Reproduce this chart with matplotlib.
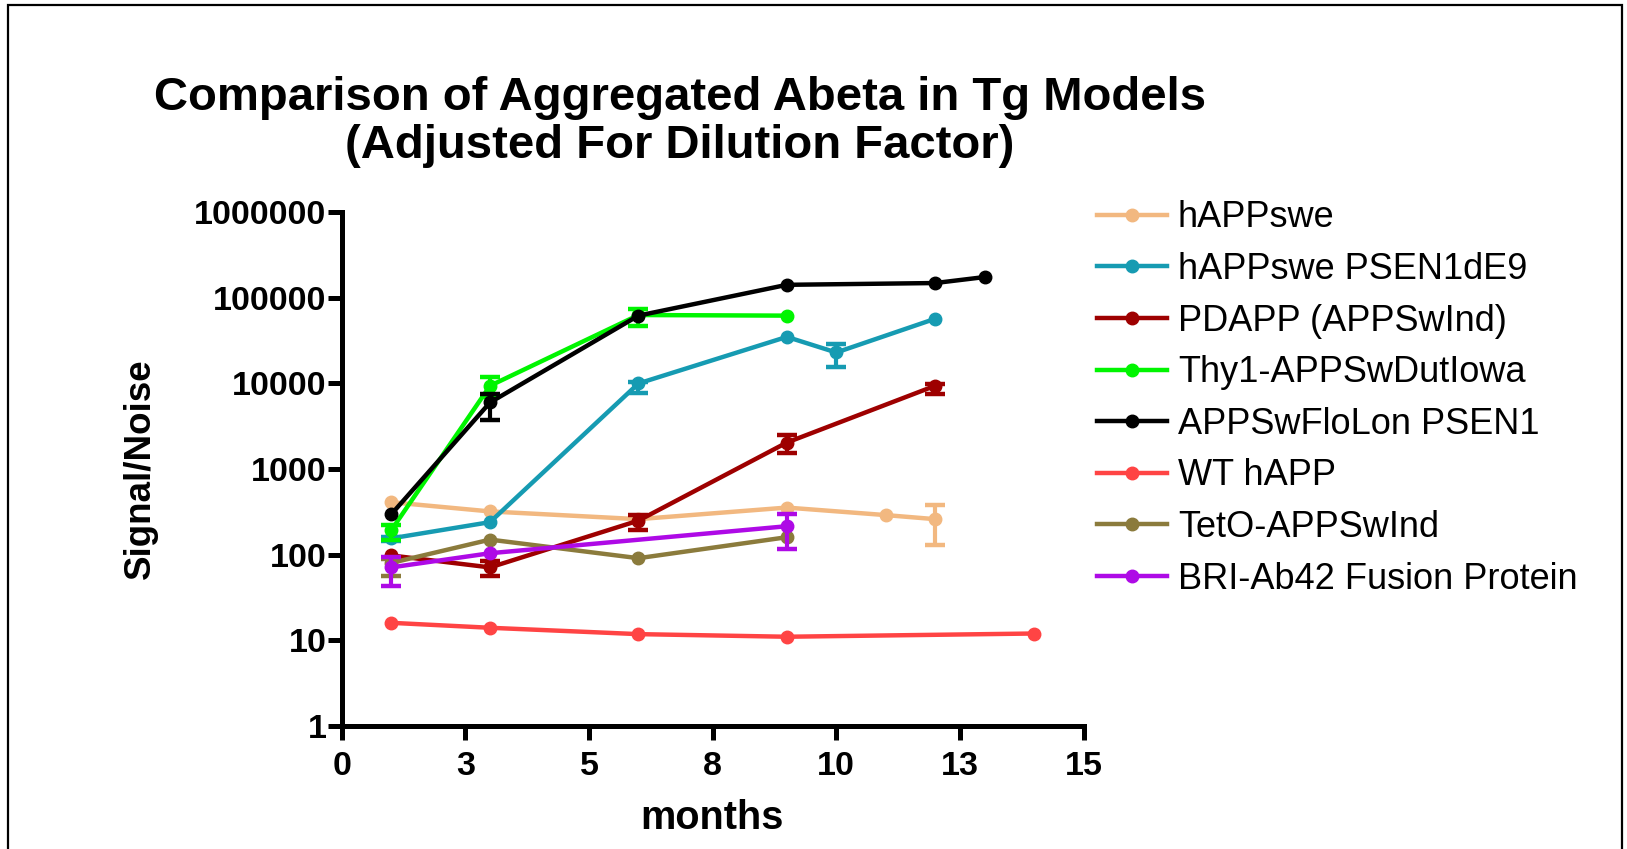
"""Comparison of aggregated Abeta in Tg models, log signal/noise vs months."""
import matplotlib
matplotlib.use("Agg")
import matplotlib.pyplot as plt
from matplotlib.patches import Rectangle

# ---- data ----
labels = ["hAPPswe", "hAPPswe PSEN1dE9", "PDAPP (APPSwInd)", "Thy1-APPSwDutIowa",
          "APPSwFloLon PSEN1", "WT hAPP", "TetO-APPSwInd", "BRI-Ab42 Fusion Protein"]
colors = ["#F2B880", "#169BB2", "#9E0000", "#00F500", "#000000", "#FF4444",
          "#8B7B3C", "#AE0AE6"]

happswe_x = [1, 3, 6, 9, 11, 12]
happswe_y = [410, 320, 260, 355, 290, 260]
happswe_ex, happswe_lo, happswe_hi = [12], [129], [380]

psen_x = [1, 3, 6, 9, 10, 12]
psen_y = [155, 240, 10000, 35000, 23000, 57000]
psen_ex, psen_lo, psen_hi = [1, 6, 10], [143, 7800, 15700], [160, 10300, 29000]

pdapp_x = [1, 3, 6, 9, 12]
pdapp_y = [98, 71, 250, 2040, 9400]
pdapp_ex, pdapp_lo, pdapp_hi = [3, 6, 9, 12], [56, 192, 1560, 7600], [84, 290, 2520, 9800]

thy1_x = [1, 3, 6, 9]
thy1_y = [192, 9400, 63000, 62000]
thy1_ex, thy1_lo, thy1_hi = [1, 3, 6], [147, 7000, 47000], [220, 12000, 74000]

floLon_x = [1, 3, 6, 9, 12, 13]
floLon_y = [295, 6000, 62000, 142000, 149000, 175000]
floLon_ex, floLon_lo, floLon_hi = [3], [3700], [7600]

wt_x = [1, 3, 6, 9, 14]
wt_y = [16, 14, 11.8, 11, 12]
wt_ex, wt_lo, wt_hi = [], [], []

teto_x = [1, 3, 6, 9]
teto_y = [80, 150, 91, 160]
teto_ex, teto_lo, teto_hi = [1], [57], [90]

bri_x = [1, 3, 9]
bri_y = [71, 104, 215]
bri_ex, bri_lo, bri_hi = [1, 9], [43, 118], [93, 300]

series = [
    (happswe_x, happswe_y, happswe_ex, happswe_lo, happswe_hi),
    (psen_x, psen_y, psen_ex, psen_lo, psen_hi),
    (pdapp_x, pdapp_y, pdapp_ex, pdapp_lo, pdapp_hi),
    (thy1_x, thy1_y, thy1_ex, thy1_lo, thy1_hi),
    (floLon_x, floLon_y, floLon_ex, floLon_lo, floLon_hi),
    (wt_x, wt_y, wt_ex, wt_lo, wt_hi),
    (teto_x, teto_y, teto_ex, teto_lo, teto_hi),
    (bri_x, bri_y, bri_ex, bri_lo, bri_hi),
]

x_ticks = [0, 2.5, 5, 7.5, 10, 12.5, 15]
x_ticklabels = ["0", "3", "5", "8", "10", "13", "15"]
y_ticks = [1, 10, 100, 1000, 10000, 100000, 1000000]
y_ticklabels = ["1", "10", "100", "1000", "10000", "100000", "1000000"]


def main():
    plt.rcParams["font.family"] = ["Liberation Sans", "DejaVu Sans"]
    fig = plt.figure(figsize=(16.27, 8.49), dpi=100)
    ax = fig.add_axes([0.210, 0.145, 0.456, 0.605])

    for (xs, ys, ex, lo, hi), lab, c in zip(series, labels, colors):
        ax.plot(xs, ys, "-o", color=c, lw=3.2, ms=9, label=lab, clip_on=False)
        if ex:
            mid = [ys[xs.index(e)] for e in ex]
            err = [[m - l for m, l in zip(mid, lo)], [h - m for m, h in zip(mid, hi)]]
            ax.errorbar(ex, mid, yerr=err, fmt="none", ecolor=c, elinewidth=3,
                        capsize=7, capthick=3.2)

    ax.set_yscale("log")
    ax.set_xlim(0, 15)
    ax.set_ylim(1, 1000000)
    ax.set_xticks(x_ticks)
    ax.set_xticklabels(x_ticklabels)
    ax.set_yticks(y_ticks)
    ax.set_yticklabels(y_ticklabels)
    ax.minorticks_off()
    ax.tick_params(width=3.6, length=10, labelsize=24.5)
    ax.tick_params(axis="x", pad=8)
    ax.tick_params(axis="y", pad=1)
    for t in ax.get_xticklabels() + ax.get_yticklabels():
        t.set_fontweight("bold")
    for s in ("top", "right"):
        ax.spines[s].set_visible(False)
    for s in ("left", "bottom"):
        ax.spines[s].set_linewidth(3.6)

    ax.set_ylabel("Signal/Noise", fontsize=26.5, fontweight="bold")
    ax.yaxis.set_label_coords(-0.247, 0.500)
    ax.set_xlabel("months", fontsize=28.5, fontweight="bold")
    ax.xaxis.set_label_coords(0.499, -0.143)

    fig.text(0.418, 0.856, "Comparison of Aggregated Abeta in Tg Models\n"
             "(Adjusted For Dilution Factor)", ha="center", va="center",
             fontsize=34, fontweight="bold", linespacing=1.12)

    ax.legend(loc="upper left", bbox_to_anchor=(0.674, 0.764),
              bbox_transform=fig.transFigure, frameon=False, fontsize=26,
              handlelength=1.95, handletextpad=0.3, labelspacing=0.46,
              borderpad=0, borderaxespad=0)

    fig.patches.append(Rectangle((8 / 1627, -0.05), 1614 / 1627, 1.05 - 5 / 849,
                                 transform=fig.transFigure, fill=False,
                                 edgecolor="black", lw=1.6))
    fig.savefig("out.png", dpi=100)


if __name__ == "__main__":
    main()
